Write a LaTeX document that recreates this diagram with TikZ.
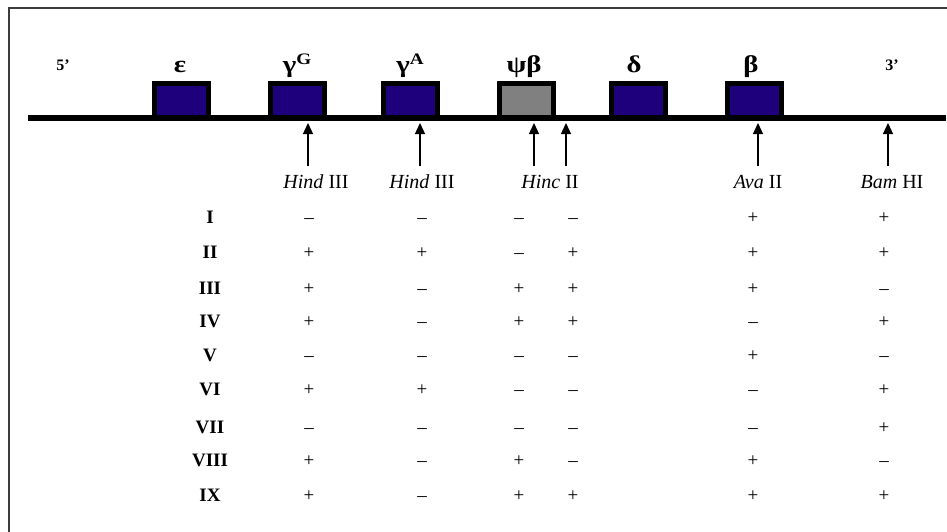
\documentclass[tikz,border=0pt]{standalone}
\usepackage{fontspec}
\setmainfont{Liberation Serif}
\newfontfamily\greekfont[FakeStretch=1.2]{Liberation Serif}
\usetikzlibrary{arrows.meta}
\definecolor{genenavy}{RGB}{30,0,125}
\definecolor{pseudogray}{RGB}{128,128,128}
\definecolor{framegray}{RGB}{60,60,60}
\begin{document}
\begin{tikzpicture}[x=1pt,y=-1pt,
  genebox/.style={draw=black,line width=5pt,fill=genenavy,minimum width=54pt,minimum height=34pt,inner sep=0pt},
  pseudobox/.style={genebox,fill=pseudogray},
  genelabel/.style={anchor=base,inner sep=0pt,font=\greekfont\bfseries\fontsize{24}{24}\selectfont},
  endlabel/.style={anchor=base,inner sep=0pt,font=\bfseries\fontsize{16}{16}\selectfont},
  enzlabel/.style={anchor=base,inner sep=0pt,font=\fontsize{20}{20}\selectfont},
  rowlabel/.style={anchor=base,inner sep=0pt,font=\bfseries\fontsize{19}{19}\selectfont},
  cell/.style={anchor=base,inner sep=0pt,font=\fontsize{19}{19}\selectfont},
  sitearrow/.style={line width=1.3pt,-{Triangle[length=11pt,width=10pt]}},
  backbone/.style={line width=6pt},
  frameline/.style={line width=2pt,framegray}]
\useasboundingbox (0,0) rectangle (947,532);
% frame (right and bottom edges fall outside the picture)
\coordinate (fbl) at (9,532);
\coordinate (ftl) at (9,8);
\coordinate (ftr) at (947,8);
\draw[frameline] (fbl) -- (ftl) -- (ftr);
% backbone
\coordinate (bbL) at (28,118.5);
\coordinate (bbR) at (946,118.5);
\draw[backbone] (bbL) -- (bbR);
% genes
\node[genebox]   (eps) at (181.5,100.5) {};
\node[genebox]   (gG)  at (297.5,100.5) {};
\node[genebox]   (gA)  at (410,100.5) {};
\node[pseudobox] (psi) at (526.5,100.5) {};
\node[genebox]   (del) at (638,100.5) {};
\node[genebox]   (bet) at (754.5,100.5) {};
% gene labels
\node[endlabel]  (l5)   at (63,71) {5’};
\node[genelabel] (leps) at (180,73) {ε};
\node[genelabel] (lgG)  at (297,73) {γ\raisebox{0.36em}{\fontsize{16}{16}\selectfont G}};
\node[genelabel] (lgA)  at (410,73) {γ\raisebox{0.36em}{\fontsize{16}{16}\selectfont A}};
\node[genelabel] (lpsi) at (524,73) {ψβ};
\node[genelabel] (ldel) at (634,73) {δ};
\node[genelabel] (lbet) at (751,73) {β};
\node[endlabel]  (l3)   at (892,71) {3’};
% restriction sites
\foreach \n/\x in {1/308,2/420,3/534,4/566,5/758,6/888}{
  \coordinate (tip\n) at (\x,123);
  \coordinate (tail\n) at (\x,166);
  \draw[sitearrow] (tail\n) -- (tip\n);
}
\node[enzlabel] (e1) at (316,188) {\textit{Hind} III};
\node[enzlabel] (e2) at (422,188) {\textit{Hind} III};
\node[enzlabel] (e3) at (550,188) {\textit{Hinc} II};
\node[enzlabel] (e4) at (758,188) {\textit{Ava} II};
\node[enzlabel] (e5) at (892,188) {\textit{Bam} HI};
% table
\foreach \r/\y/\lab/\a/\b/\c/\d/\e/\f in {
  1/223/I/–/–/–/–/+/+,
  2/258/II/+/+/–/+/+/+,
  3/294/III/+/–/+/+/+/–,
  4/327/IV/+/–/+/+/–/+,
  5/361/V/–/–/–/–/+/–,
  6/395/VI/+/+/–/–/–/+,
  7/433/VII/–/–/–/–/–/+,
  8/466/VIII/+/–/+/–/+/–,
  9/501/IX/+/–/+/+/+/+}{
  \node[rowlabel] (r\r) at (210,\y) {\lab};
  \node[cell] (c\r a) at (309,\y) {\a};
  \node[cell] (c\r b) at (422,\y) {\b};
  \node[cell] (c\r c) at (519,\y) {\c};
  \node[cell] (c\r d) at (573,\y) {\d};
  \node[cell] (c\r e) at (753,\y) {\e};
  \node[cell] (c\r f) at (884,\y) {\f};
}
\end{tikzpicture}
\end{document}
